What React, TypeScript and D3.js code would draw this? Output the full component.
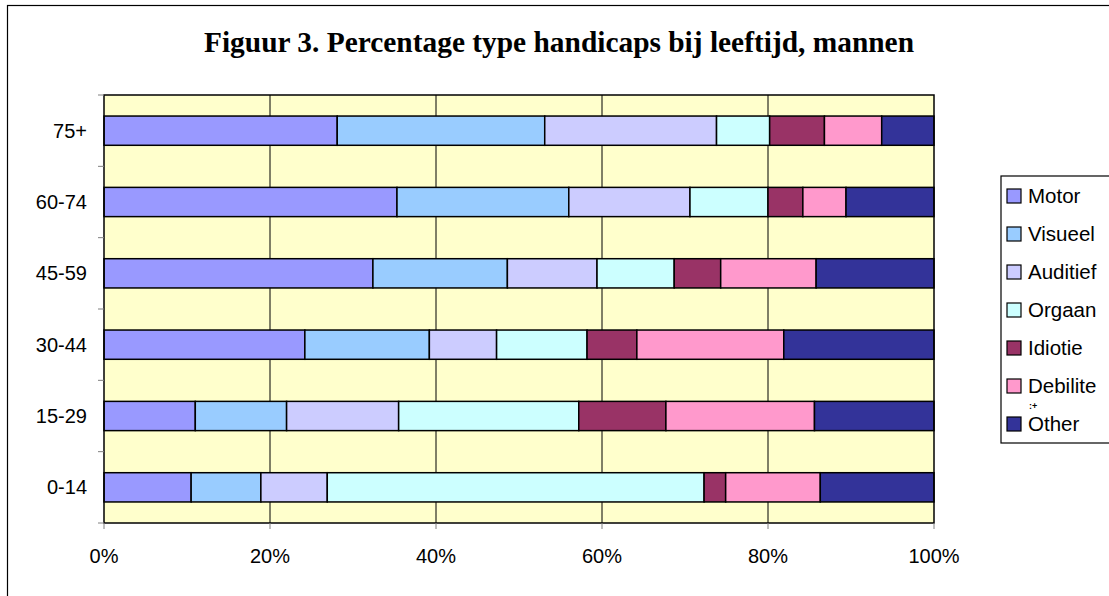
import React from "react";
import * as d3 from "d3";

const categories = ["75+", "60-74", "45-59", "30-44", "15-29", "0-14"];
const seriesNames = ["Motor", "Visueel", "Auditief", "Orgaan", "Idiotie", "Debilite", "Other"];
const seriesColors = ["#9999FF", "#99CCFF", "#CCCCFF", "#CCFFFF", "#993366", "#FF99CC", "#333399"];
const motor = [28.1, 35.3, 32.4, 24.2, 11.0, 10.5];
const visueel = [25.0, 20.7, 16.2, 15.0, 11.0, 8.4];
const auditief = [20.7, 14.6, 10.8, 8.1, 13.5, 8.0];
const orgaan = [6.4, 9.4, 9.3, 10.9, 21.7, 45.4];
const idiotie = [6.6, 4.2, 5.6, 6.0, 10.5, 2.6];
const debilite = [6.9, 5.2, 11.5, 17.7, 17.9, 11.4];
const other = [6.3, 10.6, 14.2, 18.1, 14.4, 13.7];
const xTicks = [0, 0.2, 0.4, 0.6, 0.8, 1.0];
const title = "Figuur 3. Percentage type handicaps bij leeftijd, mannen";

const W = 1109, H = 596;
const plot = { left: 104, top: 95, right: 934, bottom: 523 };

export default function App() {
  const seriesValues = [motor, visueel, auditief, orgaan, idiotie, debilite, other];
  const rows = categories.map((c, i) => {
    const r: any = { cat: c };
    seriesNames.forEach((s, j) => (r[s] = seriesValues[j][i]));
    return r;
  });
  const stacked = d3.stack<any>().keys(seriesNames).offset(d3.stackOffsetExpand)(rows);
  const x = d3.scaleLinear().domain([0, 1]).range([plot.left, plot.right]);
  const y = d3.scaleBand().domain(categories).range([plot.top, plot.bottom]).paddingInner(0.59).paddingOuter(0.295);
  const yb = d3.scaleBand().domain(categories).range([plot.top, plot.bottom]);
  const fmt = d3.format(".0%");
  const font = "'Liberation Sans', Arial, sans-serif";

  return (
    <svg width={W} height={H} style={{ position: "absolute", left: 0, top: 0, background: "#fff" }}>
      <rect x={7.5} y={5.5} width={W + 10} height={H + 10} fill="#fff" stroke="#000" strokeWidth={1.2} />
      <text x={559} y={52} textAnchor="middle" fontFamily="'Liberation Serif', 'Times New Roman', serif" fontWeight="bold" fontSize={29.4}>{title}</text>
      <rect x={plot.left} y={plot.top} width={plot.right - plot.left} height={plot.bottom - plot.top} fill="#FFFFCC" />
      {xTicks.slice(1, -1).map((t) => (
        <line key={"g" + t} x1={x(t)} x2={x(t)} y1={plot.top} y2={plot.bottom} stroke="#000" strokeWidth={1} />
      ))}
      {stacked.map((s, si) =>
        s.map((d, i) => (
          <rect key={si + "-" + i} x={x(d[0])} y={y(categories[i])} width={x(d[1]) - x(d[0])} height={y.bandwidth()}
            fill={seriesColors[si]} stroke="#000" strokeWidth={1.5} />
        ))
      )}
      <rect x={plot.left} y={plot.top} width={plot.right - plot.left} height={plot.bottom - plot.top} fill="none" stroke="#000" strokeWidth={1.5} />
      {categories.map((c) => (
        <line key={"yt" + c} x1={plot.left - 6} x2={plot.left} y1={yb(c)!} y2={yb(c)!} stroke="#808080" strokeWidth={1} />
      ))}
      <line x1={plot.left - 6} x2={plot.left} y1={plot.bottom} y2={plot.bottom} stroke="#808080" strokeWidth={1} />
      {categories.map((c) => (
        <text key={"yl" + c} x={87} y={y(c)! + y.bandwidth() / 2} dy="0.35em" textAnchor="end" fontFamily={font} fontSize={20}>{c}</text>
      ))}
      {xTicks.map((t) => (
        <g key={"xt" + t}>
          <line x1={x(t)} x2={x(t)} y1={plot.bottom} y2={plot.bottom + 6} stroke="#808080" strokeWidth={1} />
          <text x={x(t)} y={563} textAnchor="middle" fontFamily={font} fontSize={20}>{fmt(t)}</text>
        </g>
      ))}
      <rect x={1001} y={176} width={120} height={267} fill="#fff" stroke="#000" strokeWidth={1.2} />
      {seriesNames.map((s, i) => {
        const cy = 196 + i * 38;
        return (
          <g key={"lg" + s}>
            <rect x={1007} y={cy - 7} width={14} height={14} fill={seriesColors[i]} stroke="#000" strokeWidth={1.2} />
            <text x={1028} y={cy} dy="0.35em" fontFamily={font} fontSize={20.5}>{s}</text>
          </g>
        );
      })}
      <text x={1029} y={409} fontFamily={font} fontSize={9} fontWeight="bold">:+</text>
    </svg>
  );
}
